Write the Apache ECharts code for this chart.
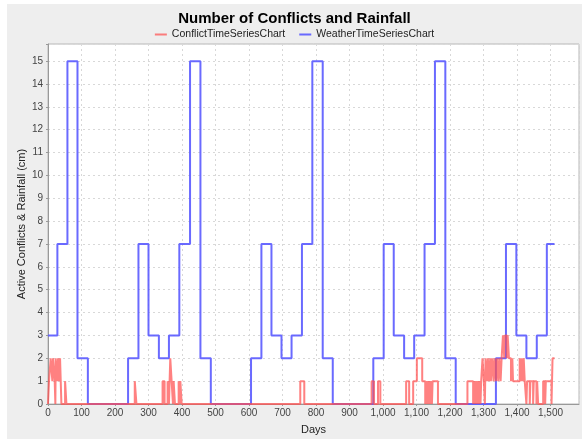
<!DOCTYPE html>
<html>
<head>
<meta charset="utf-8">
<script src="https://cdn.jsdelivr.net/npm/echarts@6/dist/echarts.min.js"></script>
<style>
html,body{margin:0;padding:0;background:#ffffff;}
#c{position:absolute;left:7px;top:4px;width:575px;height:435px;background:#eeeeee;}
</style>
</head>
<body>
<div id="c"></div>
<script>
// Change points [day, value]; value holds until next point
var weatherSteps = [
 [0,3],[28,7],[58,15],[88,2],[119,0],[239,2],[270,7],[300,3],[331,2],[361,3],[392,7],[424,15],[455,2],[486,0],
 [606,2],[637,7],[667,3],[697,2],[727,3],[758,7],[789,15],[820,2],[850,0],
 [971,2],[1002,7],[1032,3],[1063,2],[1093,3],[1124,7],[1155,15],[1186,2],[1217,0],
 [1337,2],[1367,7],[1398,3],[1428,2],[1459,3],[1489,7],[1512,7]
];
var conflictSteps = [
 [0,0],[3,1],[8,2],[13,1],[15,2],[20,1],[22,0],[23,2],[28,1],[30,2],[34,1],[36,2],[40,0],
 [51,1],[55,0],
 [259,1],[264,0],
 [342,1],[348,0],
 [357,1],[361,0],[363,1],[365,2],[369,1],[373,0],[375,1],[379,0],
 [390,1],[393,0],[395,1],[399,0],
 [753,1],[765,0],
 [966,1],[973,0],[985,1],[992,0],
 [1069,1],[1078,0],
 [1090,1],[1101,2],[1117,1],[1126,0],[1128,1],[1131,0],[1133,1],[1136,0],[1138,1],[1140,0],[1142,1],[1146,0],[1148,1],[1164,0],
 [1252,1],[1269,0],[1271,1],[1274,0],[1276,1],[1279,0],[1281,1],[1285,0],[1287,1],[1291,0],[1293,1],[1297,2],[1301,1],[1304,0],
 [1306,2],[1310,1],[1313,2],[1316,1],[1320,2],[1322,1],[1326,2],[1330,1],[1333,2],[1337,1],[1340,2],[1344,1],[1347,2],
 [1351,1],[1354,2],[1358,3],[1362,2],[1364,3],[1370,2],[1372,3],[1376,2],[1382,1],[1386,2],[1388,1],[1393,1],[1408,2],
 [1411,1],[1414,2],[1417,1],[1420,2],[1423,1],[1428,0],[1430,1],[1438,0],[1440,1],[1448,0],[1450,1],[1458,0],[1460,1],[1463,0],
 [1478,1],[1484,0],[1486,1],[1503,0],[1506,2],[1512,2]
];
var xTicks = {min:0, max:1585, interval:100};
var yTicks = {min:0, max:15.75, interval:1};

var chart = echarts.init(document.getElementById('c'), null, {renderer:'canvas'});
var font = 'Liberation Sans, Arial, sans-serif';
chart.setOption({
  animation:false,
  backgroundColor:'#eeeeee',
  title:{text:'Number of Conflicts and Rainfall', left:'center', top:2,
    textStyle:{fontSize:15, fontWeight:'bold', color:'#000', fontFamily:font}},
  legend:{top:20, left:'center', itemGap:14, itemWidth:12, itemHeight:2, icon:'rect',
    textStyle:{fontSize:10.5, color:'#222', fontFamily:font},
    data:['ConflictTimeSeriesChart','WeatherTimeSeriesChart']},
  grid:{left:41, right:3, top:40, bottom:35, containLabel:false, outerBoundsMode:'none',
    show:true, backgroundColor:'#ffffff', borderColor:'#b8b8b8', borderWidth:1},
  xAxis:{type:'value', min:xTicks.min, max:xTicks.max, interval:xTicks.interval,
    name:'Days', nameLocation:'middle', nameGap:20, nameMoveOverlap:false,
    nameTextStyle:{fontSize:11, color:'#222', fontFamily:font},
    axisLine:{show:true, lineStyle:{color:'#999'}},
    axisTick:{show:true, length:2, lineStyle:{color:'#999'}},
    axisLabel:{fontSize:10, color:'#444', fontFamily:font, margin:4, showMaxLabel:false,
      formatter:function(v){return v % 100 === 0 ? v.toLocaleString('en-US') : '';}},
    splitLine:{show:true, lineStyle:{color:'#d8d8d8', type:[2,3], width:1}}},
  yAxis:{type:'value', min:yTicks.min, max:yTicks.max, interval:yTicks.interval,
    name:'Active Conflicts & Rainfall (cm)', nameLocation:'middle', nameGap:21, nameRotate:90,
    nameMoveOverlap:false,
    nameTextStyle:{fontSize:11, color:'#222', fontFamily:font},
    axisLine:{show:true, lineStyle:{color:'#999'}},
    axisTick:{show:true, length:2, lineStyle:{color:'#999'}},
    axisLabel:{fontSize:10, color:'#444', fontFamily:font, margin:5,
      formatter:function(v){return Number.isInteger(v) ? String(v) : '';}},
    splitLine:{show:true, lineStyle:{color:'#d8d8d8', type:[2,3], width:1}}},
  series:[
    {name:'ConflictTimeSeriesChart', type:'line', step:'end', data:conflictSteps, showSymbol:false, z:3,
      color:'rgba(255,80,80,0.72)', lineStyle:{color:'rgba(255,80,80,0.72)', width:2}},
    {name:'WeatherTimeSeriesChart', type:'line', step:'end', data:weatherSteps, showSymbol:false, z:2,
      color:'rgba(90,90,255,0.9)', lineStyle:{color:'rgba(90,90,255,0.9)', width:2}}
  ]
});
</script>
</body>
</html>
